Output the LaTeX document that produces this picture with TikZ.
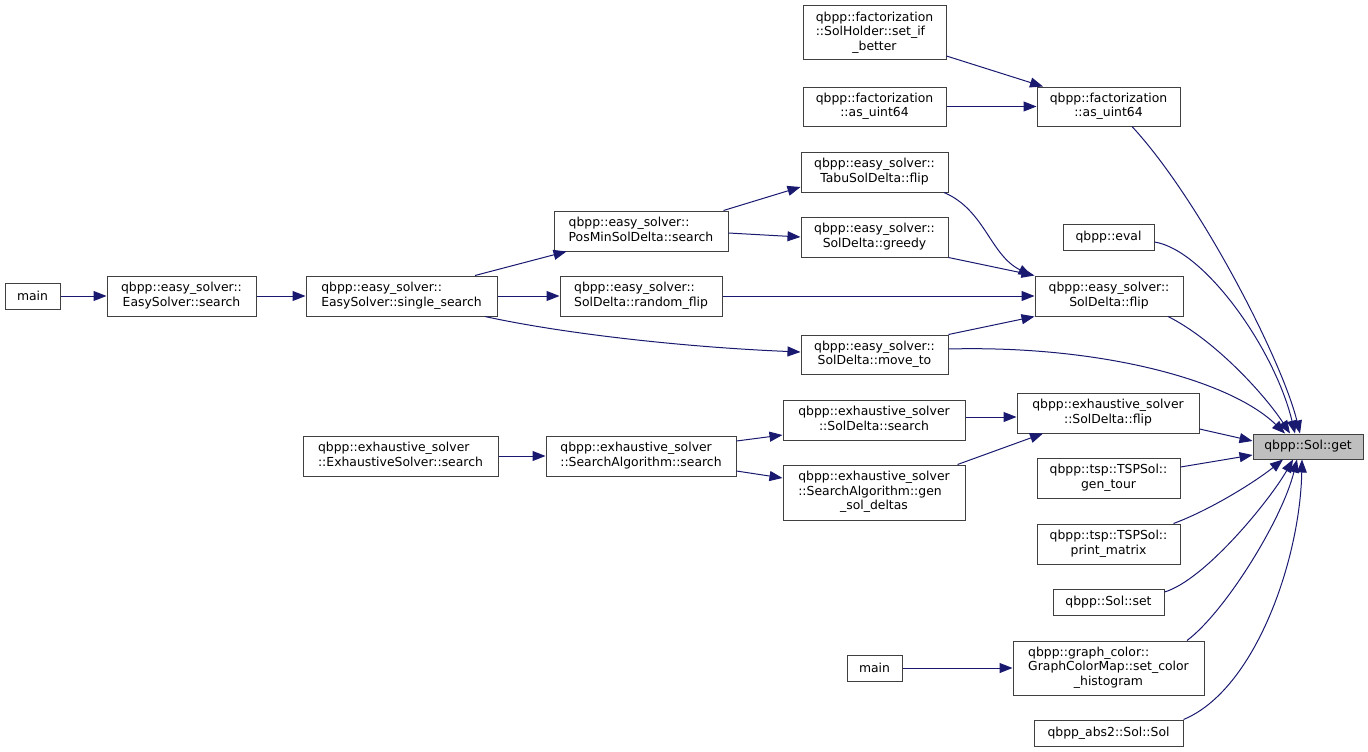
\documentclass[tikz,border=0pt]{standalone}
\usepackage{fontspec}
\setmainfont{DejaVu Sans}
\usetikzlibrary{arrows.meta}
\definecolor{edgecol}{HTML}{191970}
\definecolor{bordcol}{HTML}{404040}
\definecolor{hlcol}{HTML}{BFBFBF}
\newcommand\lb[2]{\begin{tabular}{@{}l@{}}#1\\\multicolumn{1}{@{}c@{}}{#2}\end{tabular}}
\newcommand\lbb[3]{\begin{tabular}{@{}l@{}}#1\\#2\\\multicolumn{1}{@{}c@{}}{#3}\end{tabular}}
\newcommand\bx[7][]{%
  \pgfmathsetmacro\bxw{#5-#3}\pgfmathsetmacro\bxh{#6-#4}%
  \pgfmathsetmacro\bxcx{(#3+#5)/2}\pgfmathsetmacro\bxcy{(#4+#6)/2}%
  \node[box,#1,minimum width=\bxw pt,minimum height=\bxh pt] (#2) at (\bxcx,\bxcy) {#7};}
\begin{document}
\begin{tikzpicture}[x=1pt,y=-1pt,
  box/.style={draw=bordcol, fill=white, line width=1pt, inner sep=0pt,
    font=\fontsize{12.4}{14.5}\selectfont},
  edg/.style={draw=edgecol, line width=1pt, -{Triangle[length=13pt,width=10pt]}}]
\useasboundingbox (0,0) rectangle (1368,752);
% nodes
\bx{sib}{803}{6}{946}{60}{\lbb{qbpp::factorization}{::SolHolder::set\_if}{\_better}}
\bx{aul}{803}{87}{946}{126}{\lb{qbpp::factorization}{::as\_uint64}}
\bx{aur}{1037}{87}{1180}{126}{\lb{qbpp::factorization}{::as\_uint64}}
\bx{tabu}{801}{152}{948}{192}{\lb{qbpp::easy\_solver::}{TabuSolDelta::flip}}
\bx{greedy}{801}{217}{948}{257}{\lb{qbpp::easy\_solver::}{SolDelta::greedy}}
\bx{eval}{1063}{224}{1154}{250}{qbpp::eval}
\bx{flip}{1035}{276}{1183}{316}{\lb{qbpp::easy\_solver::}{SolDelta::flip}}
\bx{mv}{801}{335}{948}{374}{\lb{qbpp::easy\_solver::}{SolDelta::move\_to}}
\bx{posmin}{554}{211}{728}{251}{\lb{qbpp::easy\_solver::}{PosMinSolDelta::search}}
\bx{rflip}{560}{276}{722}{316}{\lb{qbpp::easy\_solver::}{SolDelta::random\_flip}}
\bx{single}{306}{276}{497}{316}{\lb{qbpp::easy\_solver::}{EasySolver::single\_search}}
\bx{ess}{107}{276}{256}{316}{\lb{qbpp::easy\_solver::}{EasySolver::search}}
\bx{mainA}{5}{283}{60}{309}{main}
\bx{xflip}{1017}{393}{1199}{433}{\lb{qbpp::exhaustive\_solver}{::SolDelta::flip}}
\bx[fill=hlcol]{get}{1253}{434}{1363}{459}{qbpp::Sol::get}
\bx{tour}{1037}{458}{1180}{498}{\lb{qbpp::tsp::TSPSol::}{gen\_tour}}
\bx{pm}{1037}{524}{1180}{564}{\lb{qbpp::tsp::TSPSol::}{print\_matrix}}
\bx{set}{1053}{589}{1164}{615}{qbpp::Sol::set}
\bx{scol}{1013}{641}{1204}{695}{\lbb{qbpp::graph\_color::}{GraphColorMap::set\_color}{\_histogram}}
\bx{ssol}{1034}{720}{1183}{746}{qbpp\_abs2::Sol::Sol}
\bx{mainB}{847}{655}{902}{681}{main}
\bx{xsearch}{783}{400}{965}{440}{\lb{qbpp::exhaustive\_solver}{::SolDelta::search}}
\bx{gen}{783}{465}{965}{520}{\lbb{qbpp::exhaustive\_solver}{::SearchAlgorithm::gen}{\_sol\_deltas}}
\bx{salg}{546}{436}{736}{476}{\lb{qbpp::exhaustive\_solver}{::SearchAlgorithm::search}}
\bx{exs}{303}{436}{498}{476}{\lb{qbpp::exhaustive\_solver}{::ExhaustiveSolver::search}}
% edges
\draw[edg] (mainA.east) -- (ess.west);
\draw[edg] (ess.east) -- (single.west);
\draw[edg] ([xshift=73.5pt]single.north) -- ([xshift=-74.5pt]posmin.south);
\draw[edg] (single.east) -- (rflip.west);
\draw[edg] ([xshift=83.5pt]single.south) .. controls (560,333) and (680,347) .. ([yshift=2.5pt]mv.west);
\draw[edg] ([xshift=82.5pt]posmin.north) -- ([yshift=-15pt]tabu.west);
\draw[edg] ([yshift=-2pt]posmin.east) -- (greedy.west);
\draw[edg] ([xshift=69.5pt]tabu.south) .. controls (985,210) and (990,255) .. ([xshift=-3pt]flip.north west);
\draw[edg] (greedy.south east) -- (flip.north west);
\draw[edg] (rflip.east) -- (flip.west);
\draw[edg] (mv.north east) -- (flip.south west);
\draw[edg] ([yshift=5.5pt]mv.east) .. controls (1100,345) and (1230,380) .. ([xshift=-23pt]get.north);
\draw[edg] ([yshift=-23pt]sib.east) -- ([xshift=-65.5pt]aur.north);
\draw[edg] (aul.east) -- (aur.west);
\draw[edg] ([xshift=23.5pt]aur.south) .. controls (1200,200) and (1282,360) .. ([xshift=-8pt]get.north);
\draw[edg] ([yshift=-5pt]eval.east) .. controls (1205,250) and (1275,350) .. ([xshift=-13pt]get.north);
\draw[edg] ([xshift=59pt]flip.south) .. controls (1215,340) and (1265,395) .. ([xshift=-18pt]get.north);
\draw[edg] ([yshift=-16pt]xflip.east) -- ([yshift=5.5pt]get.west);
\draw[edg] ([yshift=11pt]tour.east) -- ([yshift=-8.5pt]get.west);
\draw[edg] ([xshift=-7pt]pm.north east) .. controls (1210,510) and (1255,482) .. ([xshift=-25pt]get.south);
\draw[edg] ([yshift=10pt]set.east) .. controls (1205,580) and (1270,500) .. ([xshift=-15pt]get.south);
\draw[edg] ([xshift=78.5pt]scol.north) .. controls (1225,612) and (1282,520) .. ([xshift=-11pt]get.south);
\draw[edg] (ssol.north east) .. controls (1255,690) and (1300,560) .. ([xshift=-6pt]get.south);
\draw[edg] (mainB.east) -- (scol.west);
\draw[edg] (exs.east) -- (salg.west);
\draw[edg] ([yshift=15pt]salg.east) -- ([yshift=-15pt]xsearch.west);
\draw[edg] ([yshift=-15pt]salg.east) -- ([yshift=14.5pt]gen.west);
\draw[edg] ([yshift=3pt]xsearch.east) -- ([yshift=-4pt]xflip.west);
\draw[edg] ([xshift=-8pt]gen.north east) -- ([xshift=-65pt]xflip.south);
\end{tikzpicture}
\end{document}
